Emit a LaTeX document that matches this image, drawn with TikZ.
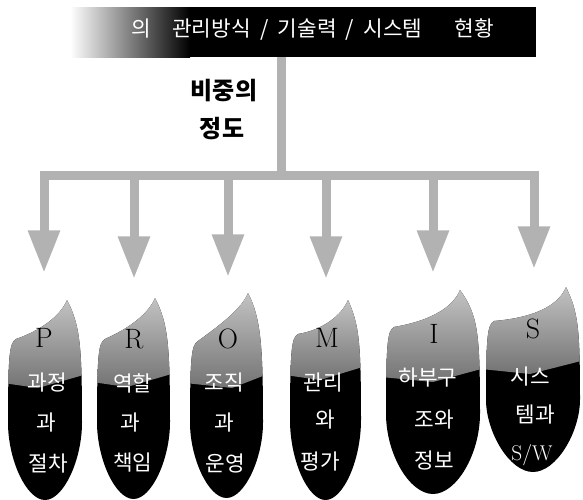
\documentclass[tikz,border=0pt]{standalone}
\usepackage{fontspec}
\newfontfamily\kr{Noto Sans CJK KR}
\usetikzlibrary{arrows.meta}
\newcommand\flamepath[6]{(#3,#4) .. controls ({#2-2},{#4+25}) and (#2,#5) .. (#2,{(#5+#6)/2}) .. controls (#2,{#6-40}) and ({#2-(#2-#1)*0.25},#6) .. ({(#1+#2)/2},#6) .. controls ({#1+(#2-#1)*0.25},#6) and (#1,{#6-40}) .. (#1,{(#5+#6)/2}) .. controls (#1,{#5+5}) and ({#1+2},{#5-2}) .. ({#1+8},{#5-6}) .. controls ({#3-25},{#4+30}) and ({#3-6},{#4+15}) .. (#3,#4) -- cycle}
\newcommand\flame[9]{%
  \begin{scope}
    \clip \flamepath{#1}{#2}{#3}{#4}{#5}{#6};
    \fill[black] ({#1-5},{#4-5}) rectangle ({#2+5},{#6+5});
    \shade[top color=black!22, middle color=white, bottom color=black!55]
      ({#1-5},{#4-5}) -- ({#2+5},{#4-5}) -- ({#2+5},{#7-6}) -- (#8,{#7+8}) -- ({#1-5},{#7+3}) -- cycle;
  \end{scope}
  \coordinate (#9) at ({(#1+#2)/2},#4);}
\begin{document}
\begin{tikzpicture}[x=0.75pt,y=-0.75pt,
  conn/.style={draw=black!30,line width=6.75pt},
  arr/.style={conn,-{Triangle[width=22.5pt,length=32pt]}},
  letter/.style={font=\fontsize{21}{21}\selectfont,text=black,inner sep=0pt,anchor=base},
  ko/.style={font=\kr\fontsize{16}{16}\selectfont,text=white,inner sep=0pt},
  note/.style={font=\kr\bfseries\fontsize{18}{18}\selectfont,text=black,inner sep=0pt}
  ]
\useasboundingbox (0,0) rectangle (583,500);
% banner
\shade[left color=white, right color=black] (70,7) rectangle (190,57);
\fill[black] (189.5,7) rectangle (536,57);
\node[anchor=base west, inner sep=0pt, text=white, font=\kr\fontsize{16}{16}\selectfont] (title) at (131,36)
  {의\hspace{16pt}관리방식\hspace{7pt}/\hspace{7pt}기술력\hspace{7pt}/\hspace{7pt}시스템\hspace{24pt}현황};
\coordinate (stemtop) at (281,57);
\coordinate (bar) at (281,175);
% note
\node[note] (n1) at (224,91) {비중의};
\node[note] (n2) at (222,129) {정도};
% connectors
\coordinate (j1) at (44,175);  \coordinate (t1) at (44,273);
\coordinate (j2) at (134,175); \coordinate (t2) at (134,279);
\coordinate (j3) at (228,175); \coordinate (t3) at (228,277);
\coordinate (j4) at (326,175); \coordinate (t4) at (326,279);
\coordinate (j5) at (433,175); \coordinate (t5) at (433,273);
\coordinate (j6) at (534,175); \coordinate (t6) at (534,269);
\draw[conn] (stemtop) -- (bar);
\draw[conn, line cap=rect] (j1) -- (j6);
\foreach \i in {1,...,6} \draw[arr] (j\i) -- (t\i);
% flames
\flame{8}{82}{67}{300}{345}{500}{380}{38}{fP}
\flame{97}{170}{155}{298}{345}{499}{379}{127}{fR}
\flame{190}{263}{248}{293}{347}{498}{380}{232}{fO}
\flame{290}{361}{348}{300}{340}{500}{372}{320}{fM}
\flame{386}{480}{460}{290}{333}{494}{374}{433}{fI}
\flame{486}{580}{566}{287}{327}{472}{366}{530}{fS}
% letters
\node[letter] (P) at (44,347) {P};
\node[letter] (R) at (134,348) {R};
\node[letter] (O) at (228,348) {O};
\node[letter] (M) at (327,347) {M};
\node[letter] (I) at (434,343) {I};
\node[letter] (S) at (533,338) {S};
% korean labels
\node[ko] (P1) at (47,383) {과정};
\node[ko] (P2) at (46,423) {과};
\node[ko] (P3) at (48,464) {절차};
\node[ko] (R1) at (133,383) {역할};
\node[ko] (R2) at (130,423) {과};
\node[ko] (R3) at (133,463) {책임};
\node[ko] (O1) at (224,383) {조직};
\node[ko] (O2) at (224,423) {과};
\node[ko] (O3) at (225,463) {운영};
\node[ko] (M1) at (323,383) {관리};
\node[ko] (M2) at (325,420) {와};
\node[ko] (M3) at (320,461) {평가};
\node[ko] (I1) at (428,378) {하부구};
\node[ko] (I2) at (434,420) {조와};
\node[ko] (I3) at (434,460) {정보};
\node[ko] (S1) at (530,377) {시스};
\node[ko] (S2) at (535,415) {템과};
\node[ko] (S3) at (532,455) {\rmfamily S/W};
\end{tikzpicture}
\end{document}
